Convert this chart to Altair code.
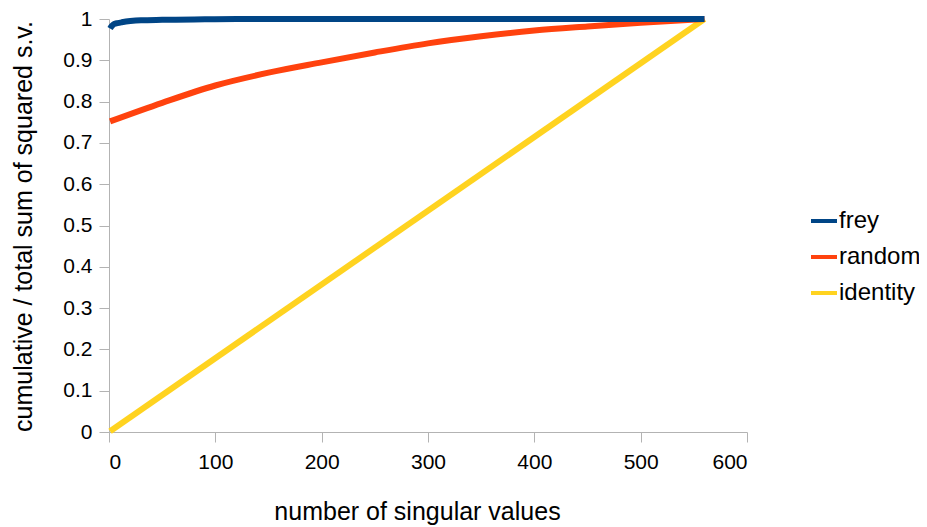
import altair as alt
import pandas as pd

# Data
frey_x = [1, 2, 3, 5, 8, 12, 20, 30, 50, 80, 120, 200, 560]
frey_y = [0.977, 0.981, 0.984, 0.988, 0.990, 0.992, 0.995, 0.997, 0.998, 0.999, 1.0, 1.0, 1.0]

random_x = [1, 50, 100, 150, 200, 250, 300, 350, 400, 450, 500, 560]
random_y = [0.752, 0.797, 0.839, 0.870, 0.895, 0.919, 0.941, 0.958, 0.972, 0.982, 0.991, 1.0]

identity_x = [1, 560]
identity_y = [0.002, 1.0]

series_names = ["frey", "random", "identity"]
series_colors = ["#004586", "#ff420e", "#ffd320"]

x_ticks = [0, 100, 200, 300, 400, 500, 600]
y_ticks = [0, 0.1, 0.2, 0.3, 0.4, 0.5, 0.6, 0.7, 0.8, 0.9, 1.0]

rows = []
# draw order: identity first (bottom), frey last (top)
for name, xs, ys in [("identity", identity_x, identity_y),
                     ("random", random_x, random_y),
                     ("frey", frey_x, frey_y)]:
    for xv, yv in zip(xs, ys):
        rows.append({"series": name, "n": xv, "v": yv})
df = pd.DataFrame(rows)

FONT = "Liberation Sans"

chart = alt.Chart(df).mark_line(strokeWidth=6, interpolate="monotone").encode(
    x=alt.X("n:Q",
            scale=alt.Scale(domain=[0, 600], nice=False),
            axis=alt.Axis(values=x_ticks, title="number of singular values",
                          grid=False, tickSize=10, labelPadding=9,
                          labelFontSize=21, labelFont=FONT, labelColor="#000000",
                          titleFontSize=25, titleFont=FONT, titleColor="#000000",
                          titleFontWeight="normal", titleBaseline="top",
                          titleAlign="center", titleX=308, titleY=67,
                          domainColor="#b3b3b3", tickColor="#b3b3b3")),
    y=alt.Y("v:Q",
            scale=alt.Scale(domain=[0, 1], nice=False),
            axis=alt.Axis(values=y_ticks, format=".1~f",
                          title="cumulative / total sum of squared s.v.",
                          grid=False, tickSize=10, labelPadding=7,
                          labelFontSize=21, labelFont=FONT, labelColor="#000000",
                          titleFontSize=25, titleFont=FONT, titleColor="#000000",
                          titleFontWeight="normal", titleBaseline="middle",
                          titleAlign="center", titleAngle=-90,
                          titleX=-86, titleY=207,
                          domainColor="#b3b3b3", tickColor="#b3b3b3")),
    color=alt.Color("series:N",
                    scale=alt.Scale(domain=series_names, range=series_colors),
                    legend=alt.Legend(title=None, orient="none",
                                      legendX=700, legendY=187,
                                      symbolType="stroke", symbolSize=676,
                                      symbolStrokeWidth=4, labelOffset=0,
                                      labelFontSize=24, labelFont=FONT,
                                      labelColor="#000000", rowPadding=9,
                                      padding=0)),
    detail="series:N",
).properties(
    width=638,
    height=413,
    autosize=alt.AutoSizeParams(type="none"),
    padding={"left": 101, "top": 11, "right": 172, "bottom": 96},
).configure_view(stroke=None)

chart.save("out.html", embed_options={"renderer": "svg", "actions": False})
